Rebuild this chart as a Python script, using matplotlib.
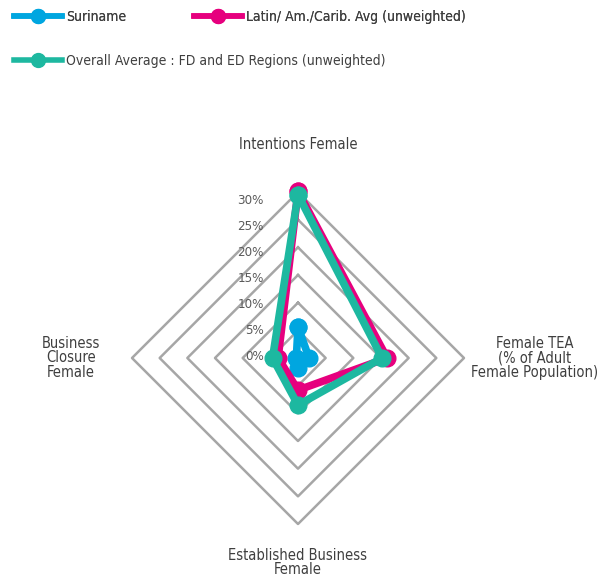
import numpy as np
import matplotlib.pyplot as plt
from matplotlib.lines import Line2D
from matplotlib.transforms import offset_copy

# ---------------------------------------------------------
# DATA (values in %)
# ---------------------------------------------------------
categories = ["Intentions Female",
              "Female TEA\n(% of Adult\nFemale Population)",
              "Established Business\nFemale",
              "Business\nClosure\nFemale"]

series_names = ["Suriname",
                "Latin/ Am./Carib. Avg (unweighted)",
                "Overall Average : FD and ED Regions (unweighted)"]

suriname = [5.6, 2.0, 1.8, 0.3]
latin_avg = [30.1, 16.1, 5.8, 3.6]
overall_avg = [29.5, 15.2, 8.5, 4.6]

grid_levels = [5, 10, 15, 20, 25, 30]
tick_values = [0, 5, 10, 15, 20, 25, 30]
tick_labels = ["0%", "5%", "10%", "15%", "20%", "25%", "30%"]

colors = ["#00A6E0", "#E6007E", "#1DB8A0"]
grid_color = "#A6A6A6"
text_color = "#3F3F3F"

plt.rcParams["font.family"] = ["DejaVu Sans"]
plt.rcParams["font.stretch"] = "condensed"

# ---------------------------------------------------------
# FIGURE
# ---------------------------------------------------------
fig = plt.figure(figsize=(6.08, 5.86), dpi=100)
W, H = 608, 586
cx, cy, R = 298, 358, 166
ax = fig.add_axes([(cx - R) / W, (H - cy - R) / H, 2 * R / W, 2 * R / H],
                  projection="polar")
ax.set_theta_zero_location("N")
ax.set_theta_direction(-1)
ax.set_ylim(0, 30)
ax.grid(False)
ax.spines["polar"].set_visible(False)
ax.set_xticks([])
ax.set_yticks([])
ax.patch.set_alpha(0)

n = len(categories)
angles = np.linspace(0, 2 * np.pi, n, endpoint=False)
angles_c = np.append(angles, angles[0])

# diamond grid
for lvl in grid_levels:
    ax.plot(angles_c, [lvl] * (n + 1), color=grid_color, lw=1.8,
            zorder=1, clip_on=False)

# series
for i, vals in enumerate([suriname, latin_avg, overall_avg]):
    v = np.append(vals, vals[0])
    ax.plot(angles_c, v, color=colors[i], lw=5.5, marker="o",
            markersize=12, solid_joinstyle="miter", zorder=3 + i,
            clip_on=False)

# value labels along top axis (placed as in source)
for val, lab in zip(tick_values, tick_labels):
    t = offset_copy(ax.transData, fig=fig, x=-34, y=0, units="dots")
    ax.text(0, val * 0.935 + 0.35, lab, transform=t, ha="right",
            va="center", fontsize=9.5, color="#595959", zorder=10)

# category labels
label_r = [38.5, 42.8, 37.0, 41.0]
for ang, lab, r in zip(angles, categories, label_r):
    ax.text(ang, r, lab, ha="center", va="center", fontsize=10.5,
            color=text_color, linespacing=0.95, clip_on=False)

# ---------------------------------------------------------
# LEGEND
# ---------------------------------------------------------
handles = [Line2D([], [], color=c, lw=4, marker="o", markersize=10)
           for c in colors]

leg_kw = dict(loc="upper left", frameon=False, fontsize=10,
              handlelength=3.45, handletextpad=0.3, labelcolor=text_color)
leg1 = fig.legend(handles[:2], series_names[:2], ncol=2,
                  bbox_to_anchor=(0.002, 1.004), columnspacing=4.9,
                  **leg_kw)
fig.add_artist(leg1)
fig.legend(handles[2:], series_names[2:], bbox_to_anchor=(0.002, 0.929),
           **leg_kw)

fig.savefig("out.png", dpi=100)
